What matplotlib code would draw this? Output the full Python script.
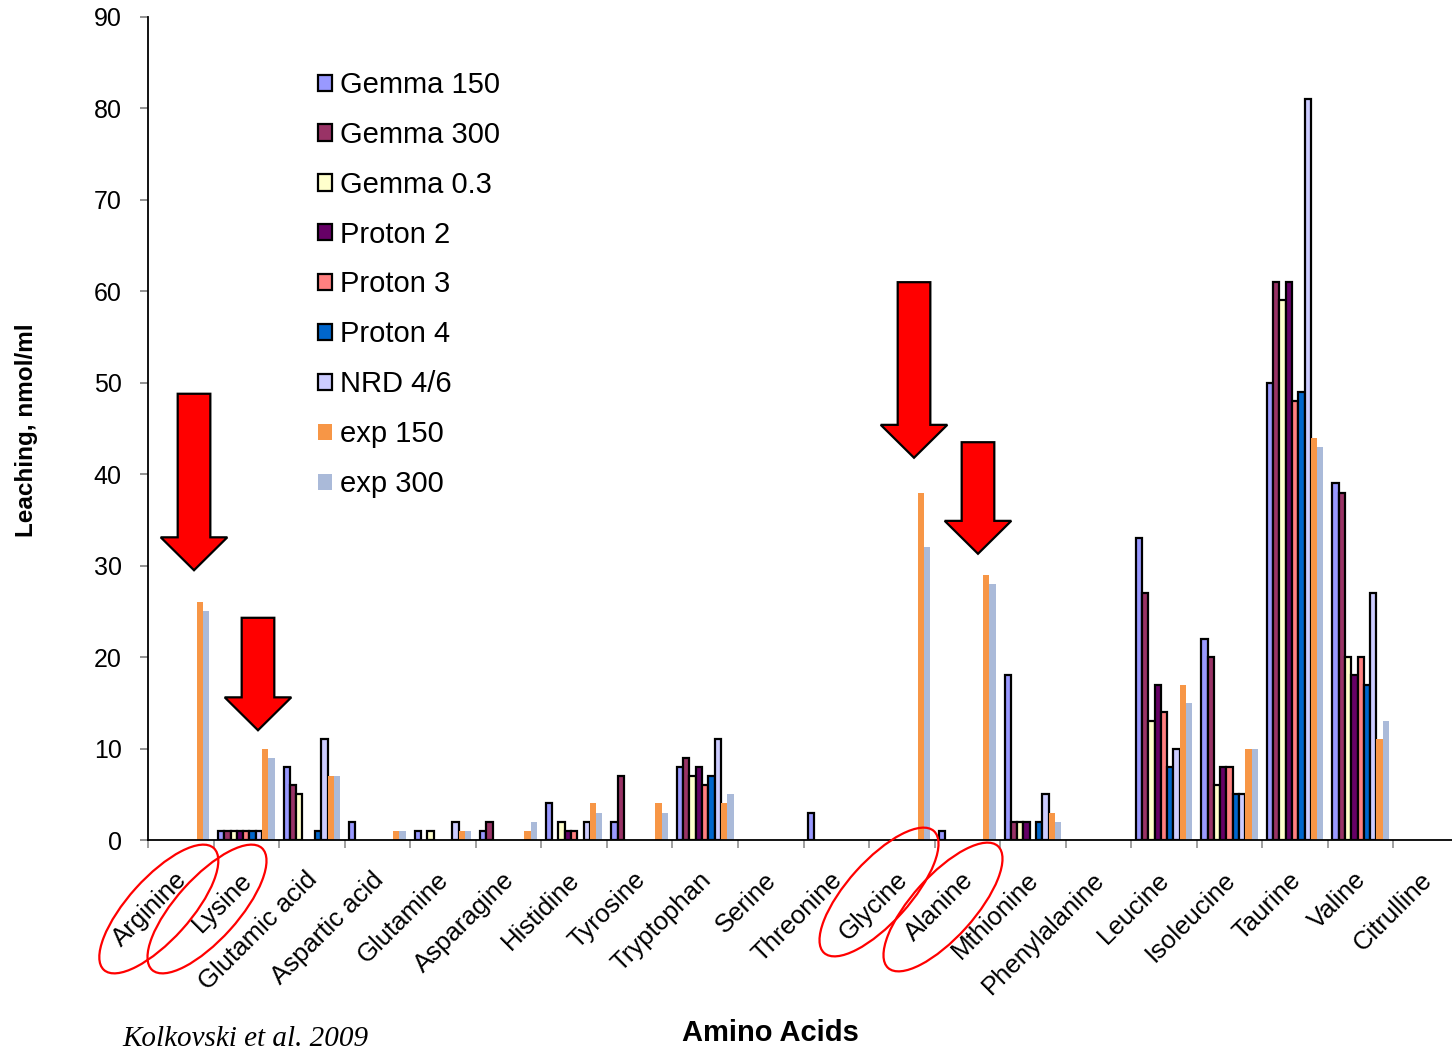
import numpy as np
import matplotlib
matplotlib.use("Agg")
import matplotlib.pyplot as plt
from matplotlib.patches import Polygon, Ellipse
from matplotlib import transforms

plt.rcParams['font.family'] = ['Liberation Sans', 'DejaVu Sans']

# Amino acids on the x axis
categories = ["Arginine", "Lysine", "Glutamic acid", "Aspartic acid", "Glutamine",
              "Asparagine", "Histidine", "Tyrosine", "Tryptophan", "Serine",
              "Threonine", "Glycine", "Alanine", "Mthionine", "Phenylalanine",
              "Leucine", "Isoleucine", "Taurine", "Valine", "Citrulline"]

# Leaching (nmol/ml) per diet
gemma_150 = [0, 1, 8, 2, 1, 1, 4, 2, 8, 0, 3, 0, 1, 18, 0, 33, 22, 50, 39, 0]
gemma_300 = [0, 1, 6, 0, 0, 2, 0, 7, 9, 0, 0, 0, 0, 2, 0, 27, 20, 61, 38, 0]
gemma_03 = [0, 1, 5, 0, 1, 0, 2, 0, 7, 0, 0, 0, 0, 2, 0, 13, 6, 59, 20, 0]
proton_2 = [0, 1, 0, 0, 0, 0, 1, 0, 8, 0, 0, 0, 0, 2, 0, 17, 8, 61, 18, 0]
proton_3 = [0, 1, 0, 0, 0, 0, 1, 0, 6, 0, 0, 0, 0, 0, 0, 14, 8, 48, 20, 0]
proton_4 = [0, 1, 1, 0, 0, 0, 0, 0, 7, 0, 0, 0, 0, 2, 0, 8, 5, 49, 17, 0]
nrd_46 = [0, 1, 11, 0, 2, 0, 2, 0, 11, 0, 0, 0, 0, 5, 0, 10, 5, 81, 27, 0]
exp_150 = [26, 10, 7, 1, 1, 1, 4, 4, 4, 0, 0, 38, 29, 3, 0, 17, 10, 44, 11, 0]
exp_300 = [25, 9, 7, 1, 1, 2, 3, 3, 5, 0, 0, 32, 28, 2, 0, 15, 10, 43, 13, 0]

series_names = ["Gemma 150", "Gemma 300", "Gemma 0.3", "Proton 2", "Proton 3",
                "Proton 4", "NRD 4/6", "exp 150", "exp 300"]
series_values = [gemma_150, gemma_300, gemma_03, proton_2, proton_3,
                 proton_4, nrd_46, exp_150, exp_300]
series_colors = ["#9999FF", "#993366", "#FFFFCC", "#660066", "#FF8080",
                 "#0066CC", "#CCCCFF", "#F79646", "#AABAD9"]
series_outlined = [True, True, True, True, True, True, True, False, False]

# Highlighted amino acids: (x in category units, arrow tip, shaft top)
arrow_specs = [(0.202, 29.5, 48.8), (1.178, 12.0, 24.3),
               (11.186, 41.8, 61.0), (12.162, 31.3, 43.5)]
# Ellipses around highlighted labels: (x in category units, offset below axis in px)
ellipse_specs = [(-0.335, 69), (0.400, 69), (10.652, 52), (11.628, 67)]

W, H = 1452, 1047
fig = plt.figure(figsize=(W / 100, H / 100), dpi=100)
ax = fig.add_axes([148 / W, (H - 840) / H, 1311 / W, 823 / H])

n_cat = len(categories)
n_ser = len(series_names)
x = np.arange(n_cat)
bar_w = 1 / 10.4

for i, (name, vals, col, outl) in enumerate(zip(series_names, series_values,
                                                series_colors, series_outlined)):
    v = np.asarray(vals, dtype=float)
    mask = v > 0
    offs = (i - (n_ser - 1) / 2) * bar_w
    ax.bar(x[mask] + offs, v[mask], width=bar_w, color=col,
           edgecolor="black" if outl else "none",
           linewidth=1.6 if outl else 0, label=name, zorder=2)

ax.set_xlim(-0.5, n_cat - 0.5)
ax.set_ylim(0, 90)
ax.set_yticks(np.arange(0, 91, 10))
ax.tick_params(axis="y", length=6, width=1.2, color="#808080", pad=13,
               labelsize=18)

# Category boundaries as tick marks, names at category centres
ax.set_xticks(np.arange(-0.5, n_cat, 1.0))
ax.set_xticklabels([])
ax.tick_params(axis="x", which="major", length=6, width=1.2, color="#909090",
               direction="out")
ax.set_xticks(x, minor=True)
ax.set_xticklabels(categories, minor=True, rotation=45, ha="right",
                   va="center", rotation_mode="anchor", fontsize=18.5)
ax.tick_params(axis="x", which="minor", length=0, pad=26)
shift = transforms.ScaledTranslation(2 / 100, 0, fig.dpi_scale_trans)
for lbl in ax.get_xticklabels(minor=True):
    lbl.set_transform(lbl.get_transform() + shift)

for s in ["top", "right"]:
    ax.spines[s].set_visible(False)
for s in ["left", "bottom"]:
    ax.spines[s].set_linewidth(1.3)
    ax.spines[s].set_color("black")

# Block arrows
sw, hw, hl = 0.249, 0.508, 3.6
for cx, tip, top in arrow_specs:
    base = tip + hl
    pts = [(cx - sw, top), (cx + sw, top), (cx + sw, base), (cx + hw, base),
           (cx, tip), (cx - hw, base), (cx - sw, base)]
    ax.add_patch(Polygon(pts, closed=True, facecolor="#FF0000",
                         edgecolor="black", linewidth=1.6, joinstyle="miter",
                         zorder=5))

# Hand-drawn style ellipses around label names
for cx, dy in ellipse_specs:
    tr = fig.dpi_scale_trans + transforms.ScaledTranslation(
        cx, 0, ax.get_xaxis_transform())
    ax.add_patch(Ellipse((0, -dy / 100), 1.64, 0.62, angle=48, fill=False,
                         edgecolor="#FF0000", linewidth=1.6, transform=tr,
                         clip_on=False, zorder=6))

leg = ax.legend(loc="upper left", bbox_to_anchor=(318 / W, 1 - 71 / H),
                bbox_transform=fig.transFigure, frameon=False, fontsize=21,
                handlelength=0.48, handleheight=0.48, handletextpad=0.28,
                labelspacing=0.75, borderpad=0, borderaxespad=0)

fig.text(27 / W, 1 - 430 / H, "Leaching, nmol/ml", rotation=90, ha="center",
         va="center", fontsize=17.5, fontweight="bold")
fig.text(770 / W, (H - 1041) / H, "Amino Acids", ha="center", va="baseline",
         fontsize=21, fontweight="bold")
fig.text(122 / W, (H - 1046) / H, "Kolkovski et al. 2009", ha="left",
         va="baseline", fontsize=21, style="italic",
         family=["Liberation Serif", "DejaVu Serif"])

fig.savefig("out.png", dpi=100, facecolor="white")
